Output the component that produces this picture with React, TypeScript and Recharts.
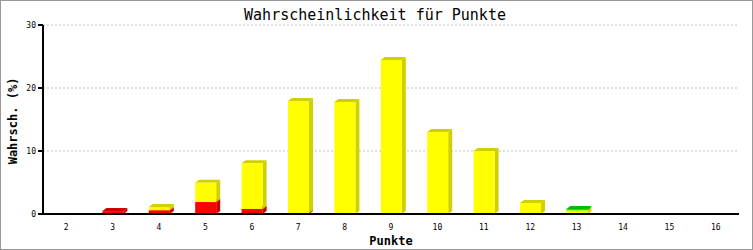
import { BarChart, Bar, XAxis, YAxis, CartesianGrid } from "recharts";

const punkte = ["2", "3", "4", "5", "6", "7", "8", "9", "10", "11", "12", "13", "14", "15", "16"];
const rot = [0, 0.46, 0.6, 1.9, 0.8, 0.16, 0, 0, 0, 0, 0, 0, 0, 0, 0];
const gelb = [0, 0, 0.5, 3.07, 7.25, 17.78, 17.78, 24.44, 13.0, 10.0, 1.75, 0.59, 0, 0, 0];
const gruen = [0, 0, 0, 0, 0, 0, 0, 0, 0, 0, 0, 0.2, 0, 0, 0];
const yTicks = [0, 10, 20, 30];

const data = punkte.map((p, i) => ({ p, rot: rot[i], gelb: gelb[i], gruen: gruen[i] }));

const W = 753;
const H = 250;
const MONO = "'DejaVu Sans Mono', 'Liberation Mono', monospace";
const DX = 4;
const DY = 3;

function darker(c: string) {
  if (c === "#ffff00") return "#d0d000";
  if (c === "#ff0000") return "#cc0000";
  if (c === "#00ee00") return "#00bb00";
  return c;
}

// 3D-ish block: front face, side and top
function Block(props: any) {
  const { x, y, width, height, fill } = props;
  if (!height || height <= 0) return <g />;
  const d = darker(fill);
  const right = x + width;
  const bottom = y + height;
  return (
    <g>
      <polygon points={`${x},${y} ${x + DX},${y - DY} ${right + DX},${y - DY} ${right},${y}`} fill={d} />
      <polygon points={`${right},${y} ${right + DX},${y - DY} ${right + DX},${bottom - DY} ${right},${bottom}`} fill={d} />
      <rect x={x} y={y} width={width} height={height} fill={fill} />
    </g>
  );
}

export default function App() {
  return (
    <div style={{ position: "absolute", left: 0, top: 0, width: W, height: H, boxSizing: "border-box", border: "1px solid #999", background: "#fff" }}>
      <BarChart width={W - 2} height={H - 2} data={data} margin={{ top: 24, right: 13, bottom: 0, left: 0 }} barCategoryGap={0}>
        <text x={374} y={19} textAnchor="middle" fontFamily={MONO} fontSize={15} fill="#000">
          Wahrscheinlichkeit für Punkte
        </text>
        <text
          x={16}
          y={120}
          textAnchor="middle"
          fontFamily={MONO}
          fontSize={12}
          fontWeight="bold"
          fill="#000"
          transform="rotate(-90 16 120)"
        >
          Wahrsch. (%)
        </text>
        <CartesianGrid vertical={false} stroke="#c0c0c0" strokeDasharray="2 2" />
        <XAxis
          dataKey="p"
          height={35}
          axisLine={{ stroke: "#000", strokeWidth: 2 }}
          tickLine={false}
          tick={{ fontSize: 8, fontFamily: MONO, fill: "#000" }}
          tickMargin={4}
          interval={0}
          label={{ value: "Punkte", position: "insideBottom", offset: 4, fontFamily: MONO, fontSize: 12, fontWeight: "bold", fill: "#000" }}
        />
        <YAxis
          width={42}
          domain={[0, 30]}
          ticks={yTicks}
          axisLine={{ stroke: "#000", strokeWidth: 2 }}
          tickLine={{ stroke: "#000", strokeWidth: 2 }}
          tickSize={5}
          tick={{ fontSize: 8, fontFamily: MONO, fill: "#000" }}
        />
        <YAxis yAxisId="r" orientation="right" width={0} tick={false} tickLine={false} axisLine={{ stroke: "#000", strokeWidth: 2 }} />
        <Bar dataKey="rot" stackId="a" fill="#ff0000" barSize={21} shape={<Block />} isAnimationActive={false} />
        <Bar dataKey="gelb" stackId="a" fill="#ffff00" barSize={21} shape={<Block />} isAnimationActive={false} />
        <Bar dataKey="gruen" stackId="a" fill="#00ee00" barSize={21} shape={<Block />} isAnimationActive={false} />
      </BarChart>
    </div>
  );
}
